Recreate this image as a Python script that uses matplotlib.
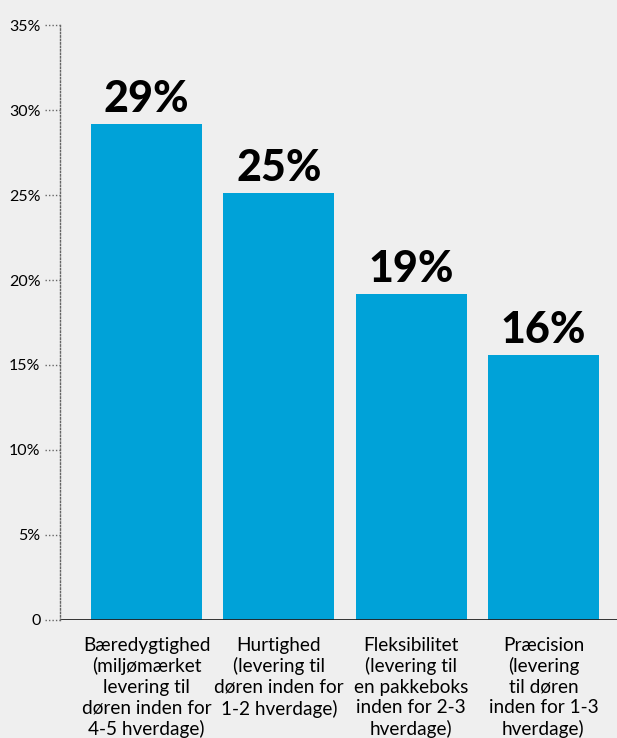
import matplotlib.pyplot as plt

categories = [
    "Bæredygtighed\n(miljømærket\nlevering til\ndøren inden for\n4-5 hverdage)",
    "Hurtighed\n(levering til\ndøren inden for\n1-2 hverdage)",
    "Fleksibilitet\n(levering til\nen pakkeboks\ninden for 2-3\nhverdage)",
    "Præcision\n(levering\ntil døren\ninden for 1-3\nhverdage)",
]
values = [29.2, 25.1, 19.2, 15.6]
yticks = [0, 5, 10, 15, 20, 25, 30, 35]
ytick_labels = ["0", "5%", "10%", "15%", "20%", "25%", "30%", "35%"]

bg = "#efefef"
bar_color = "#00a2d8"

fig = plt.figure(figsize=(6.17, 7.38), dpi=100, facecolor=bg)
ax = fig.add_axes([0.0972, 0.16, 0.9028, 0.806])
ax.set_facecolor(bg)

x = range(len(values))
ax.bar(x, values, width=0.84, color=bar_color, zorder=2)

for xi, v in zip(x, values):
    ax.text(xi, v + 0.3, f"{round(v)}%", ha="center", va="bottom",
            fontsize=31, fontweight="black", family="Lato", color="black")

ax.set_xlim(-0.654, 3.556)
ax.set_ylim(0, 35)

# dotted left spine, solid baseline
for side in ["top", "right", "bottom"]:
    ax.spines[side].set_visible(False)
ax.spines["left"].set_linestyle((0, (1, 1.5)))
ax.spines["left"].set_color("#666666")
ax.spines["left"].set_linewidth(1)
ax.axhline(0, xmin=0.004, xmax=1, color="#222222", linewidth=2, zorder=3)

ax.set_yticks(yticks)
ax.set_yticklabels(ytick_labels, family="Lato", fontsize=11.5)
ax.tick_params(axis="y", length=0, pad=14)
for t in yticks:
    ax.plot([-0.027, 0], [t, t], transform=ax.get_yaxis_transform(),
            color="#666666", linestyle=(0, (1, 1.5)), linewidth=1, clip_on=False)

ax.set_xticks(list(x))
ax.set_xticklabels(categories, family="Lato", fontsize=13.7, linespacing=1.25)
ax.tick_params(axis="x", length=0, pad=12)

fig.savefig("out.png", dpi=100, facecolor=bg)
